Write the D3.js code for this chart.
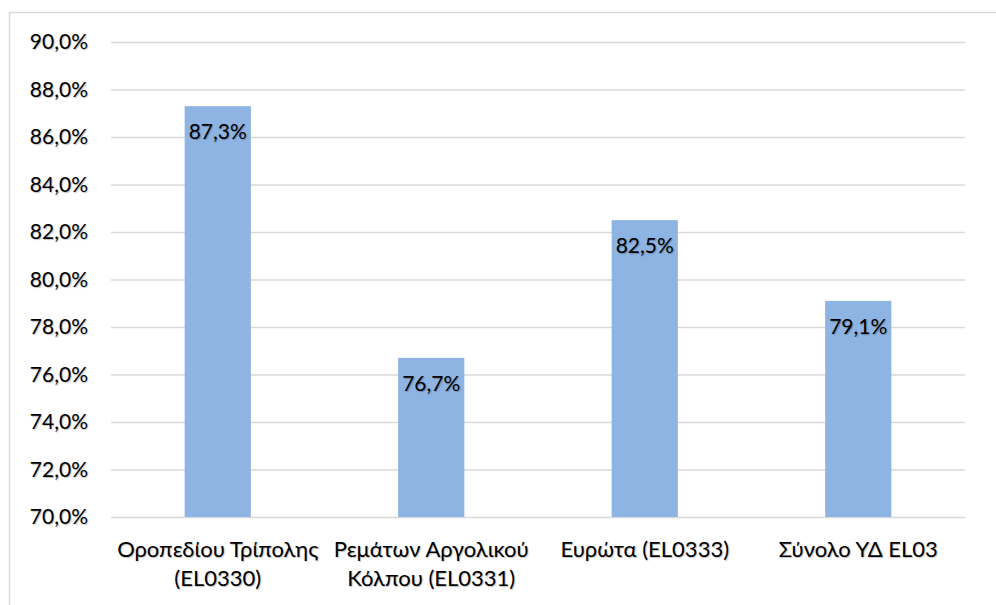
<!DOCTYPE html>
<html><head><meta charset="utf-8">
<script src="https://cdnjs.cloudflare.com/ajax/libs/d3/7.8.5/d3.min.js"></script>
<style>
html,body{margin:0;padding:0;background:#fff;}
svg{display:block;}
text{font-family:Lato,"Open Sans",sans-serif;fill:#000;}
</style>
</head><body>
<svg id="c" width="996" height="605"></svg>
<script>
const categories = [["Οροπεδίου Τρίπολης","(EL0330)"],["Ρεμάτων Αργολικού","Κόλπου (EL0331)"],["Ευρώτα (EL0333)"],["Σύνολο ΥΔ EL03"]];
const values = [87.3, 76.7, 82.5, 79.1];
const yTicks = [70,72,74,76,78,80,82,84,86,88,90];

const svg = d3.select("#c");
const m = {left:111, right:965, top:42, bottom:517};
svg.append("rect").attr("x",9.5).attr("y",12.5).attr("width",1000).attr("height",620)
  .attr("fill","none").attr("stroke","#d9d9d9").attr("stroke-width",1.5);

const x = d3.scaleBand().domain(d3.range(categories.length)).range([m.left,m.right]).paddingInner(0).paddingOuter(0);
const y = d3.scaleLinear().domain([70,90]).range([m.bottom,m.top]);
const fmt = v => d3.format(".1f")(v).replace(".",",")+"%";

const ya = svg.append("g").attr("transform",`translate(${m.left},0)`)
  .call(d3.axisLeft(y).tickValues(yTicks).tickSize(-(m.right-m.left)).tickPadding(23).tickFormat(fmt));
ya.select(".domain").remove();
ya.selectAll(".tick line").attr("stroke","#d9d9d9").attr("stroke-width",1.5);
ya.selectAll(".tick text").attr("font-size",21).attr("fill","#000").style("font-family","Lato")
  .style("text-shadow","1px 1px 1px rgba(0,0,0,0.25)");

const bw = x.bandwidth()*0.31;
svg.append("g").selectAll("rect").data(values).join("rect")
  .attr("x",(d,i)=>x(i)+x.bandwidth()/2-bw/2).attr("width",bw)
  .attr("y",d=>y(d)).attr("height",d=>y(70)-y(d)).attr("fill","#8eb4e3");

svg.append("g").selectAll("text").data(values).join("text")
  .attr("x",(d,i)=>x(i)+x.bandwidth()/2).attr("y",d=>y(d)+33)
  .attr("text-anchor","middle").attr("font-size",21).text(d=>fmt(d))
  .style("text-shadow","1px 1px 1px rgba(0,0,0,0.25)");

const xl = svg.append("g").selectAll("text").data(categories).join("text")
  .attr("x",(d,i)=>x(i)+x.bandwidth()/2).attr("y",557)
  .attr("text-anchor","middle").attr("font-size",22)
  .style("text-shadow","1px 1px 1px rgba(0,0,0,0.25)");
xl.each(function(d,i){
  const t=d3.select(this);
  d.forEach((line,j)=>t.append("tspan").attr("x",x(i)+x.bandwidth()/2).attr("dy",j===0?0:29).text(line));
});
</script>
</body></html>
